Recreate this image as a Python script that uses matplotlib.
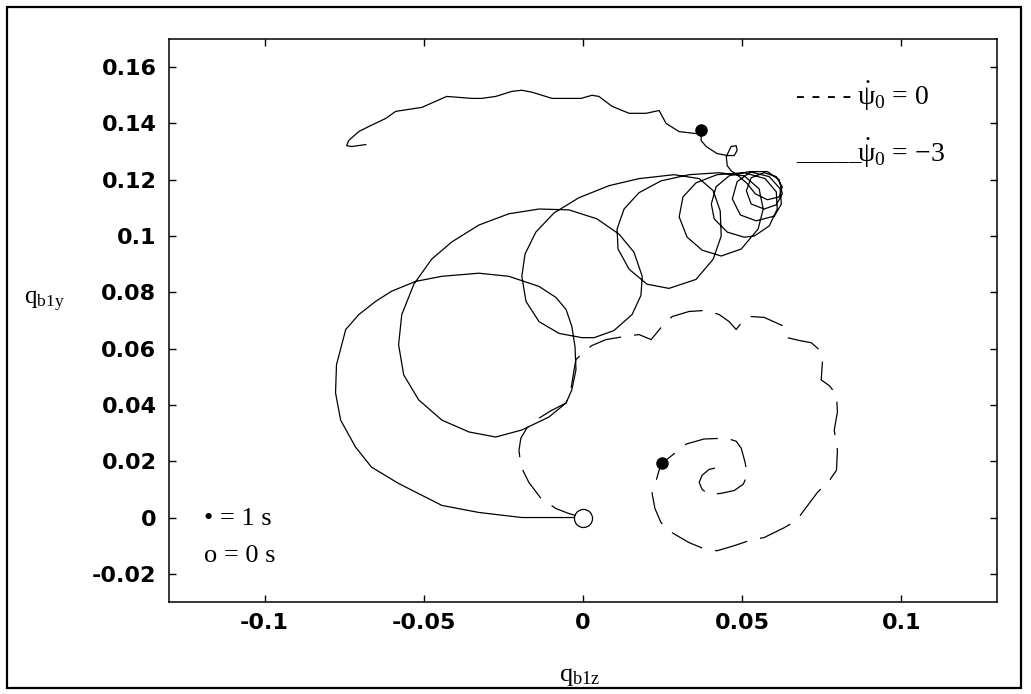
import matplotlib
matplotlib.use("Agg")
import matplotlib.pyplot as plt
from matplotlib.patches import Rectangle

plt.rcParams["font.family"] = ["DejaVu Sans"]
plt.rcParams["mathtext.fontset"] = "custom"
plt.rcParams["mathtext.rm"] = "Liberation Serif"
plt.rcParams["mathtext.it"] = "Liberation Serif"
plt.rcParams["mathtext.bf"] = "Liberation Serif:bold"

# psi_dot_0 = -3 : looping path (z, y), one revolution per block
loops_z = [0.0, -0.0075, -0.0192, -0.0327, -0.0443, -0.0579, -0.0664, -0.0714, -0.0761, -0.0777,
           -0.0774, -0.0745, -0.0704, -0.0651, -0.0601, -0.0525, -0.0443, -0.0327, -0.0233, -0.0138,
           -0.0085, -0.0053, -0.0035, -0.0025, -0.0022, -0.0035, -0.0053, -0.0107, -0.0192, -0.0274,
           -0.0358, -0.0443, -0.0516, -0.0563, -0.0579, -0.0569, -0.0531, -0.0475, -0.0412, -0.0327,
           -0.0233, -0.0138, -0.0044, 0.0044, 0.0113, 0.0160, 0.0186, 0.0182, 0.0154, 0.0097,
           0.0035, -0.0003,
           -0.0075, -0.0138, -0.0179, -0.0192, -0.0182, -0.0148, -0.0091, -0.0013, 0.0082, 0.0176,
           0.0286, 0.0365, 0.0409, 0.0431, 0.0434, 0.0409, 0.0355, 0.0270,
           0.0201, 0.0145, 0.0110, 0.0107, 0.0129, 0.0176, 0.0245, 0.0333, 0.0428, 0.0506,
           0.0553, 0.0566, 0.0550, 0.0497, 0.0434,
           0.0374, 0.0327, 0.0302, 0.0314, 0.0355, 0.0421, 0.0506, 0.0572, 0.0607, 0.0610,
           0.0585, 0.0538, 0.0506,
           0.0453, 0.0412, 0.0403, 0.0418, 0.0459, 0.0522, 0.0585, 0.0619, 0.0623, 0.0601, 0.0544,
           0.0494, 0.0469, 0.0484, 0.0528, 0.0579, 0.0616, 0.0626, 0.0607, 0.0569,
           0.0528, 0.0513, 0.0528, 0.0569, 0.0607, 0.0626, 0.0616, 0.0579, 0.0541, 0.0516,
           0.0491, 0.0465]
loops_y = [0.0, 0.0, 0.0, 0.0018, 0.0043, 0.0121, 0.0179, 0.0250, 0.0346, 0.0443,
           0.0543, 0.0668, 0.0721, 0.0768, 0.0804, 0.0839, 0.0857, 0.0868, 0.0857, 0.0821,
           0.0782, 0.0739, 0.0679, 0.0607, 0.0525, 0.0454, 0.0407, 0.0357, 0.0311, 0.0286,
           0.0304, 0.0346, 0.0418, 0.0507, 0.0614, 0.0721, 0.0829, 0.0918, 0.0979, 0.1039,
           0.1079, 0.1096, 0.1093, 0.1061, 0.1007, 0.0943, 0.0857, 0.0789, 0.0721, 0.0664,
           0.0639, 0.0639,
           0.0654, 0.0696, 0.0768, 0.0857, 0.0936, 0.1014, 0.1082, 0.1136, 0.1179, 0.1204,
           0.1218, 0.1204, 0.1161, 0.1089, 0.1000, 0.0918, 0.0846, 0.0814,
           0.0829, 0.0882, 0.0954, 0.1025, 0.1096, 0.1154, 0.1196, 0.1218, 0.1225, 0.1214,
           0.1168, 0.1096, 0.1025, 0.0954, 0.0929,
           0.0950, 0.0996, 0.1068, 0.1139, 0.1189, 0.1218, 0.1225, 0.1204, 0.1157, 0.1096,
           0.1036, 0.1000, 0.0996,
           0.1014, 0.1061, 0.1114, 0.1175, 0.1214, 0.1229, 0.1211, 0.1168, 0.1114, 0.1071, 0.1054,
           0.1075, 0.1132, 0.1193, 0.1229, 0.1229, 0.1200, 0.1150, 0.1111, 0.1096,
           0.1114, 0.1161, 0.1207, 0.1225, 0.1211, 0.1175, 0.1139, 0.1129, 0.1150, 0.1186,
           0.1211, 0.1232]

# small curl, then the drift to the upper left
tail_z = [0.0453, 0.0450, 0.0465, 0.0481, 0.0484, 0.0475, 0.0453, 0.0421, 0.0387, 0.0371,
          0.0371, 0.0355, 0.0302, 0.0261, 0.0239, 0.0198, 0.0145, 0.0091, 0.0050, 0.0028,
          -0.0006, -0.0097, -0.0160, -0.0192, -0.0223, -0.0274, -0.0318, -0.0349, -0.0428, -0.0462,
          -0.0506, -0.0588, -0.0619, -0.0673, -0.0704, -0.0736, -0.0742, -0.0726, -0.0682]
tail_y = [0.1250, 0.1282, 0.1318, 0.1321, 0.1304, 0.1286, 0.1286, 0.1293, 0.1318, 0.1339,
          0.1375, 0.1364, 0.1371, 0.1400, 0.1446, 0.1436, 0.1436, 0.1461, 0.1496, 0.1500,
          0.1489, 0.1489, 0.1511, 0.1518, 0.1514, 0.1496, 0.1489, 0.1489, 0.1496, 0.1479,
          0.1457, 0.1443, 0.1418, 0.1389, 0.1371, 0.1339, 0.1321, 0.1318, 0.1325]

# psi_dot_0 = 0 : scalloped inward spiral
spiral_z = [0.0, -0.0044, -0.0085, -0.0132, -0.0170, -0.0195, -0.0201, -0.0195, -0.0176, -0.0148,
            -0.0101, -0.0053, -0.0038, -0.0028, -0.0022, 0.0003, 0.0028, 0.0072, 0.0129, 0.0176,
            0.0214, 0.0248, 0.0280, 0.0333, 0.0387, 0.0428, 0.0459, 0.0481, 0.0506, 0.0528,
            0.0569, 0.0626, 0.0642, 0.0679, 0.0717, 0.0742, 0.0752, 0.0748, 0.0774, 0.0796,
            0.0799, 0.0789, 0.0799, 0.0796, 0.0774, 0.0736, 0.0701, 0.0670, 0.0632, 0.0569,
            0.0522, 0.0475, 0.0421, 0.0380, 0.0333, 0.0280, 0.0245, 0.0226, 0.0217, 0.0230,
            0.0239, 0.0248, 0.0280, 0.0324, 0.0380, 0.0450, 0.0481, 0.0497, 0.0509, 0.0516,
            0.0503, 0.0475, 0.0434, 0.0396, 0.0374, 0.0365, 0.0374, 0.0396, 0.0428]
spiral_y = [0.0, 0.0014, 0.0032, 0.0068, 0.0125, 0.0182, 0.0239, 0.0282, 0.0318, 0.0346,
            0.0379, 0.0407, 0.0454, 0.0525, 0.0561, 0.0589, 0.0611, 0.0632, 0.0643, 0.0650,
            0.0632, 0.0679, 0.0714, 0.0732, 0.0736, 0.0721, 0.0696, 0.0668, 0.0704, 0.0714,
            0.0711, 0.0682, 0.0639, 0.0629, 0.0621, 0.0596, 0.0554, 0.0489, 0.0468, 0.0436,
            0.0375, 0.0311, 0.0239, 0.0168, 0.0132, 0.0089, 0.0036, -0.0011, -0.0036, -0.0071,
            -0.0082, -0.0100, -0.0118, -0.0111, -0.0089, -0.0054, -0.0018, 0.0032, 0.0086, 0.0132,
            0.0168, 0.0193, 0.0221, 0.0261, 0.0279, 0.0282, 0.0271, 0.0246, 0.0196, 0.0150,
            0.0118, 0.0096, 0.0086, 0.0082, 0.0100, 0.0125, 0.0150, 0.0171, 0.0179]

# positions at t = 1 s (solid run, dashed run) and t = 0
one_s_z = [0.0371, 0.0248]
one_s_y = [0.1375, 0.0193]
start_z, start_y = 0.0, 0.0

x_ticks = [-0.1, -0.05, 0, 0.05, 0.1]
x_labels = ["-0.1", "-0.05", "0", "0.05", "0.1"]
y_ticks = [-0.02, 0, 0.02, 0.04, 0.06, 0.08, 0.1, 0.12, 0.14, 0.16]
y_labels = ["-0.02", "0", "0.02", "0.04", "0.06", "0.08", "0.1", "0.12", "0.14", "0.16"]

fig = plt.figure(figsize=(10.31, 6.94), dpi=100)
ax = fig.add_axes([0.1639, 0.1326, 0.8031, 0.8112])

ax.plot(loops_z + tail_z, loops_y + tail_y, color="black", lw=0.9)
ax.plot(spiral_z, spiral_y, color="black", lw=0.9, linestyle=(0, (27, 10.5)))
ax.plot(one_s_z, one_s_y, "o", color="black", ms=8)
ax.plot(start_z, start_y, "o", mfc="white", mec="black", mew=0.9, ms=13)

ax.set_xlim(-0.13, 0.13)
ax.set_ylim(-0.03, 0.17)
ax.set_xticks(x_ticks)
ax.set_xticklabels(x_labels)
ax.set_yticks(y_ticks)
ax.set_yticklabels(y_labels)
ax.tick_params(direction="in", length=5, width=1, top=True, right=True, labelsize=16)
ax.tick_params(axis="x", pad=8)
ax.tick_params(axis="y", pad=9)
for lab in ax.get_xticklabels() + ax.get_yticklabels():
    lab.set_fontweight("bold")
for sp in ax.spines.values():
    sp.set_linewidth(1.1)

serif = "Liberation Serif"
ax.text(-0.119, -0.0005, "\u2022 = 1 s", family=serif, fontsize=19, va="center")
ax.text(-0.119, -0.0135, "o = 0 s", family=serif, fontsize=19, va="center")
ax.text(0.067, 0.1495, "- - - -", family=serif, fontsize=19, va="center")
ax.text(0.0862, 0.1495, r"$\dot{\psi}_0$ = 0", family=serif, fontsize=20, va="center")
ax.text(0.067, 0.1273, "_____", family=serif, fontsize=19, va="baseline")
ax.text(0.0862, 0.1295, r"$\dot{\psi}_0$ = $-$3", family=serif, fontsize=20, va="center")

fig.text(0.5626, 0.027, r"$\mathrm{q}_{\mathrm{b1z}}$", fontsize=19, ha="center", va="center")
fig.text(0.0427, 0.566, r"$\mathrm{q}_{\mathrm{b1y}}$", fontsize=18, ha="center", va="center")

fig.add_artist(Rectangle((0.0068, 0.0086), 0.9835, 0.9813, transform=fig.transFigure,
                         fill=False, edgecolor="black", lw=1.6))

fig.savefig("out.png", dpi=100, facecolor="white")
